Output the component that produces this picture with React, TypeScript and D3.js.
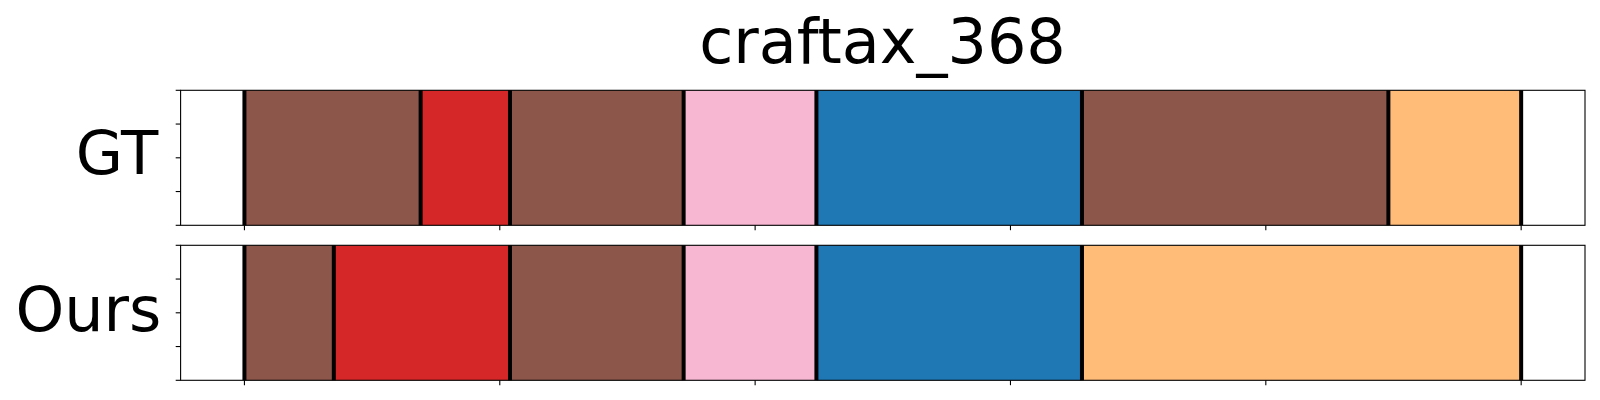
import { scaleLinear } from "d3";

const width = 1600;
const height = 400;
const left = 180.6;
const right = 1585;

const title = "craftax_368";
const rowLabels = ["GT", "Ours"];

// segment boundaries (x units, ticks every 100) and the colour of each segment
const gtBounds = [0, 69, 104, 172, 224, 328, 448, 500];
const gtColors = ["#8c564b", "#d62728", "#8c564b", "#f7b6d2", "#1f77b4", "#8c564b", "#ffbb78"];
const oursBounds = [0, 35, 104, 172, 224, 328, 500];
const oursColors = ["#8c564b", "#d62728", "#8c564b", "#f7b6d2", "#1f77b4", "#ffbb78"];

const xTicks = [0, 100, 200, 300, 400, 500];
const yTicks = [0, 0.25, 0.5, 0.75, 1];

const panels = [
  { label: rowLabels[0], bounds: gtBounds, colors: gtColors, top: 90.3, bottom: 225.3, baseline: 174.3, lx: 158.2, fs: 61 },
  { label: rowLabels[1], bounds: oursBounds, colors: oursColors, top: 245.3, bottom: 380.3, baseline: 331, lx: 161.3, fs: 62 },
];

export default function App() {
  const xScale = scaleLinear().domain([-25, 525]).range([left, right]);

  return (
    <svg
      width={width}
      height={height}
      style={{ position: "absolute", left: 0, top: 0, background: "#fff" }}
      fontFamily="DejaVu Sans"
    >
      <text x={882.5} y={62.7} fontSize={62} textAnchor="middle" fill="#000">
        {title}
      </text>
      {panels.map((p, pi) => {
        const yScale = scaleLinear().domain([0, 1]).range([p.bottom, p.top]);
        return (
          <g key={pi}>
            {p.colors.map((c, i) => (
              <rect
                key={i}
                x={xScale(p.bounds[i])}
                y={yScale(1)}
                width={xScale(p.bounds[i + 1]) - xScale(p.bounds[i])}
                height={yScale(0) - yScale(1)}
                fill={c}
              />
            ))}
            {p.bounds.map((b, i) => (
              <line
                key={i}
                x1={xScale(b)}
                x2={xScale(b)}
                y1={yScale(1)}
                y2={yScale(0)}
                stroke="#000"
                strokeWidth={4}
              />
            ))}
            <rect
              x={left}
              y={yScale(1)}
              width={right - left}
              height={yScale(0) - yScale(1)}
              fill="none"
              stroke="#000"
              strokeWidth={1.1}
            />
            {yTicks.map((t) => (
              <line key={t} x1={left - 4.9} x2={left} y1={yScale(t)} y2={yScale(t)} stroke="#000" strokeWidth={1.1} />
            ))}
            {xTicks.map((t) => (
              <line key={t} x1={xScale(t)} x2={xScale(t)} y1={yScale(0)} y2={yScale(0) + 4.9} stroke="#000" strokeWidth={1.1} />
            ))}
            <text x={p.lx} y={p.baseline} fontSize={p.fs} textAnchor="end" fill="#000">
              {p.label}
            </text>
          </g>
        );
      })}
    </svg>
  );
}
